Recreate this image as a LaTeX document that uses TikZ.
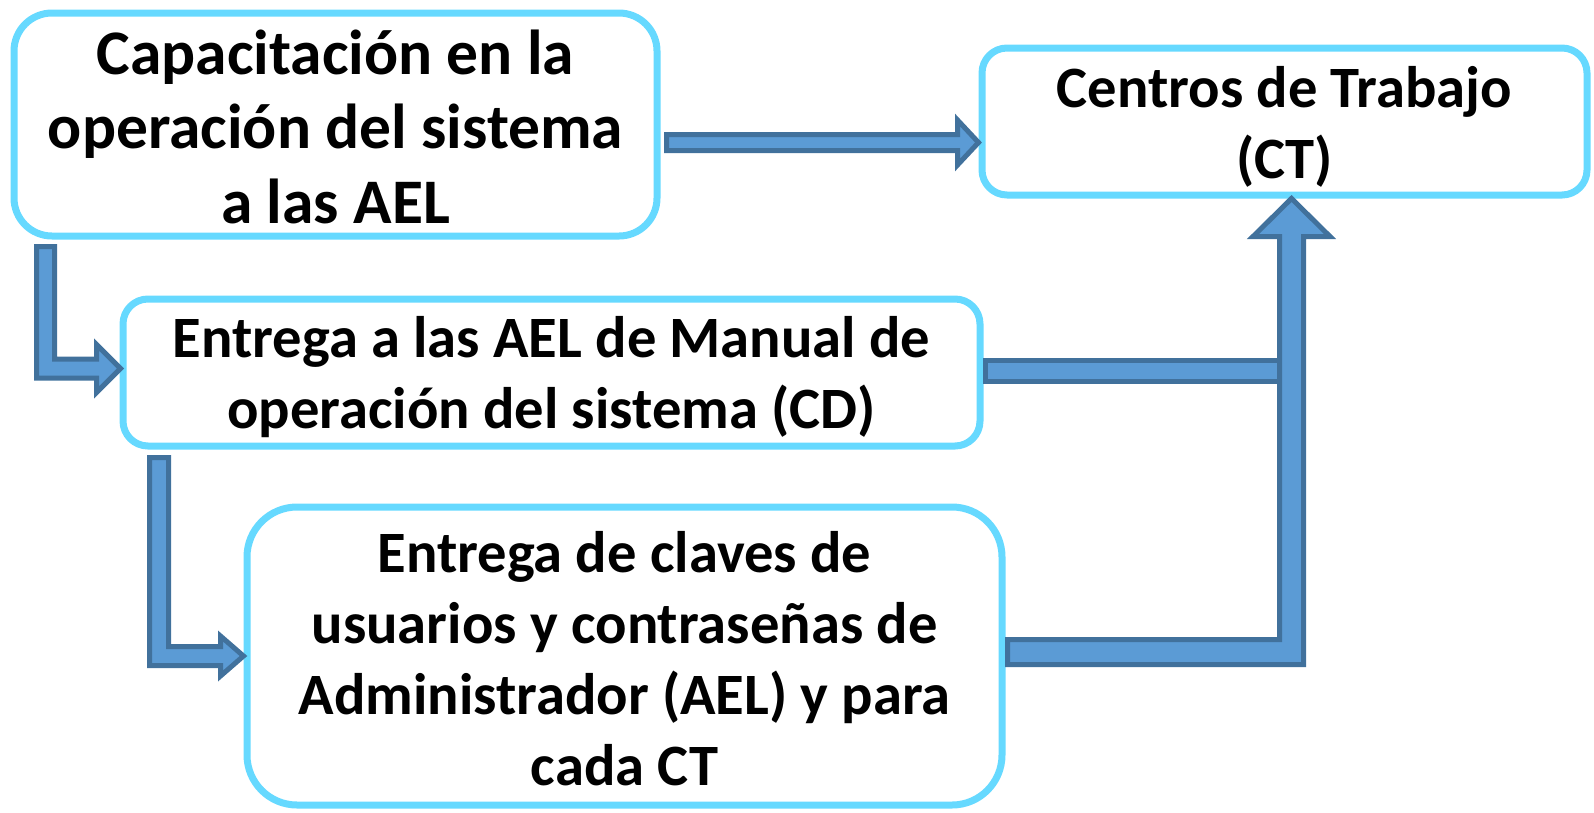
\documentclass[tikz,border=0pt]{standalone}
\usepackage{fontspec}
\setmainfont{Carlito}
\usetikzlibrary{calc}
\definecolor{boxline}{HTML}{66D9FF}
\definecolor{arrfill}{HTML}{5B9BD5}
\definecolor{arrline}{HTML}{41719C}
\begin{document}
\begin{tikzpicture}[x=1pt,y=-1pt,
  box/.style={draw=boxline, line width=7pt, fill=white, rectangle, inner sep=0pt},
  txt/.style={align=center, inner sep=0pt, font=\fontsize{58.6}{71}\selectfont\bfseries},
  bigtxt/.style={align=center, inner sep=0pt, font=\fontsize{63.5}{74.5}\selectfont\bfseries},
  blockarrow/.style={fill=arrfill, draw=arrline, line width=5pt, line join=miter}]
\useasboundingbox (0,0) rectangle (1594,812);
\node[box, rounded corners=38pt, minimum width=643pt, minimum height=223pt] (cap) at (335.5,124.5) {};
\node[bigtxt] (capt) at ($(cap.center)+(0,2)$) {Capacitación en la\\operación del sistema\\a las AEL};
\node[box, rounded corners=25pt, minimum width=605pt, minimum height=147pt] (ct) at (1284.5,121.5) {};
\node[txt] (ctt) at ($(ct.center)+(0,5)$) {Centros de Trabajo\\(CT)};
\node[box, rounded corners=25pt, minimum width=857pt, minimum height=147pt] (man) at (551.5,372.5) {};
\node[txt] (mant) at ($(man.center)+(0,5)$) {Entrega a las AEL de Manual de\\operación del sistema (CD)};
\node[box, rounded corners=50pt, minimum width=755pt, minimum height=298pt] (cla) at (624.5,656) {};
\node[txt] (clat) at ($(cla.center)+(0,3)$) {Entrega de claves de\\usuarios y contraseñas de\\Administrador (AEL) y para\\cada CT};
% arrow cap -> ct
\coordinate (aA) at ($(cap.east)+(6,18)$);
\coordinate (aAt) at (ct.west |- aA);
\draw[blockarrow] ($(aA)+(0,-8)$) -- ($(aAt)+(-21,-8)$) -- ($(aAt)+(-21,-22.5)$) -- (aAt)
  -- ($(aAt)+(-21,22.5)$) -- ($(aAt)+(-21,8)$) -- ($(aA)+(0,8)$) -- cycle;
% arrow cap -> man
\coordinate (bT) at ($(cap.south west)+(35,7)$);
\coordinate (bTip) at ($(man.west)+(1,-4)$);
\coordinate (bC) at (bT |- bTip);
\draw[blockarrow] ($(bT)+(-9,0)$) -- ($(bC)+(-9,9.5)$) -- ($(bTip)+(-24,9.5)$) -- ($(bTip)+(-24,24)$)
  -- (bTip) -- ($(bTip)+(-24,-24)$) -- ($(bTip)+(-24,-9.5)$) -- ($(bC)+(9,-9.5)$) -- ($(bT)+(9,0)$) -- cycle;
% arrow man -> cla
\coordinate (cT) at ($(man.south west)+(39.5,8)$);
\coordinate (cTip) at ($(cla.west)+(0,0)$);
\coordinate (cC) at (cT |- cTip);
\draw[blockarrow] ($(cT)+(-9.5,0)$) -- ($(cC)+(-9.5,9.5)$) -- ($(cTip)+(-23,9.5)$) -- ($(cTip)+(-23,20)$)
  -- (cTip) -- ($(cTip)+(-23,-20)$) -- ($(cTip)+(-23,-9.5)$) -- ($(cC)+(9.5,-9.5)$) -- ($(cT)+(9.5,0)$) -- cycle;
% big arrow cla -> ct, with bar from man
\coordinate (dS) at ($(cla.east)+(2,-4)$);
\coordinate (dTip) at ($(ct.south)+(7,0)$);
\coordinate (dC) at (dTip |- dS);
\coordinate (eS) at ($(man.east)+(2,-1.5)$);
\coordinate (eE) at ($(dC |- eS)+(-12,0)$);
\draw[blockarrow] ($(eS)+(0,-10.5)$) rectangle ($(eE)+(0,10.5)$);
\draw[blockarrow] ($(dS)+(0,-12.5)$) -- ($(dC)+(-12,-12.5)$) -- ($(dTip)+(-12,38)$) -- ($(dTip)+(-38.5,38)$)
  -- (dTip) -- ($(dTip)+(38.5,38)$) -- ($(dTip)+(12,38)$) -- ($(dC)+(12,12.5)$) -- ($(dS)+(0,12.5)$) -- cycle;
\end{tikzpicture}
\end{document}
